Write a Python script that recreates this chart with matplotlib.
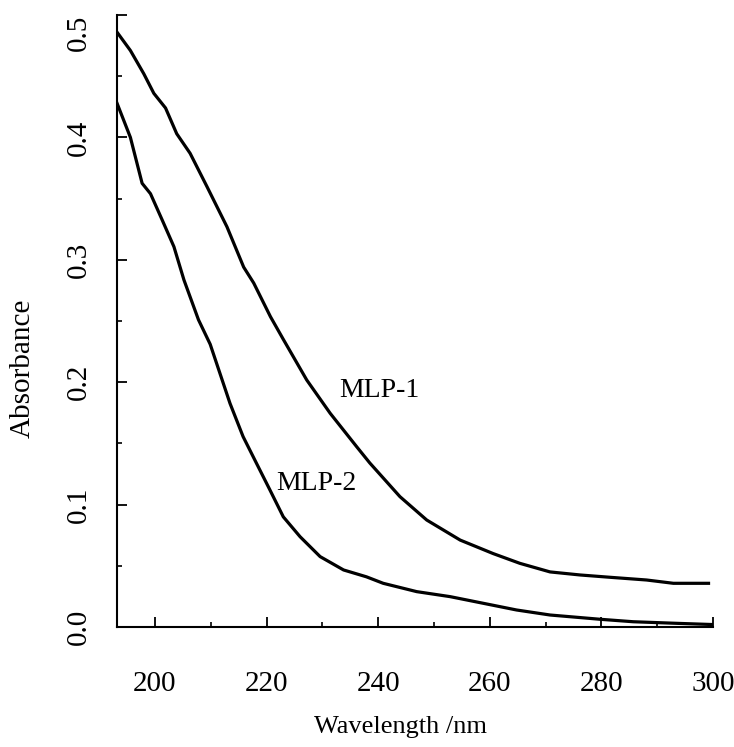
import matplotlib.pyplot as plt
from matplotlib.ticker import MultipleLocator

# UV spectra (wavelength in nm, absorbance)
wl_mlp1 = [193.2, 195.6, 198.0, 199.8, 201.9, 203.9, 206.3, 209.3, 212.9, 215.9,
           217.7, 220.7, 223.0, 227.2, 231.4, 236.2, 238.5, 243.9, 248.7, 254.7,
           260.6, 265.4, 270.8, 276.2, 281.6, 288.1, 292.9, 299.2]
abs_mlp1 = [0.486, 0.471, 0.452, 0.436, 0.424, 0.403, 0.387, 0.360, 0.327, 0.294,
            0.281, 0.2535, 0.235, 0.2018, 0.1746, 0.147, 0.134, 0.1065, 0.0874, 0.071,
            0.060, 0.052, 0.045, 0.0425, 0.0406, 0.0384, 0.0357, 0.0357]

wl_mlp2 = [193.2, 195.6, 197.7, 199.2, 201.3, 203.4, 205.2, 207.8, 209.9, 213.45,
           215.8, 218.2, 220.6, 223.0, 226.0, 229.6, 233.8, 237.9, 240.9, 246.9,
           252.9, 258.8, 264.8, 270.8, 279.8, 285.7, 293.5, 300.0]
abs_mlp2 = [0.428, 0.400, 0.3625, 0.354, 0.3325, 0.3107, 0.2835, 0.251, 0.231, 0.1827,
            0.1555, 0.1337, 0.112, 0.090, 0.0738, 0.0575, 0.0466, 0.041, 0.0357, 0.0289,
            0.0248, 0.0194, 0.0139, 0.0098, 0.0063, 0.0043, 0.003, 0.002]

xticks = [200, 220, 240, 260, 280, 300]
yticks = [0.0, 0.1, 0.2, 0.3, 0.4, 0.5]

plt.rcParams['font.family'] = ['Liberation Serif', 'DejaVu Serif']

fig = plt.figure(figsize=(7.34, 7.47), dpi=100)
ax = fig.add_axes([117/734, 120/747, 596/734, 612/747])

ax.plot(wl_mlp1, abs_mlp1, color='black', lw=2.3, solid_joinstyle='round')
ax.plot(wl_mlp2, abs_mlp2, color='black', lw=2.3, solid_joinstyle='round')

ax.text(240.2, 0.1936, 'MLP-1', fontsize=20, ha='center', va='center')
ax.text(229.0, 0.117, 'MLP-2', fontsize=20, ha='center', va='center')

ax.set_xlim(193.2, 300)
ax.set_ylim(0, 0.5)
ax.set_xticks(xticks)
ax.set_yticks(yticks)
ax.set_yticklabels(['%.1f' % v for v in yticks], rotation=90, va='center')
ax.xaxis.set_minor_locator(MultipleLocator(10))
ax.yaxis.set_minor_locator(MultipleLocator(0.05))

for s in ['top', 'right']:
    ax.spines[s].set_visible(False)
for s in ['left', 'bottom']:
    ax.spines[s].set_linewidth(1.5)

ax.tick_params(which='major', direction='in', length=7, width=1.3, labelsize=21)
ax.tick_params(which='minor', direction='in', length=3.5, width=1.2)
ax.tick_params(axis='x', which='major', pad=32)
ax.tick_params(axis='y', which='major', pad=18)

# top label sits just below the axis end, as in the original
ax.yaxis.get_major_ticks()[-1].label1.set_va('top')

ax.set_xlabel('Wavelength /nm', fontsize=19)
ax.xaxis.set_label_coords((401 - 117) / 596, -(727 - 627) / 612)
ax.set_ylabel('Absorbance', fontsize=21)
ax.yaxis.set_label_coords(-(117 - 23) / 596, (627 - 368) / 612)
ax.xaxis.label.set_va('center')
ax.yaxis.label.set_va('center')

plt.savefig('out.png', dpi=100)
